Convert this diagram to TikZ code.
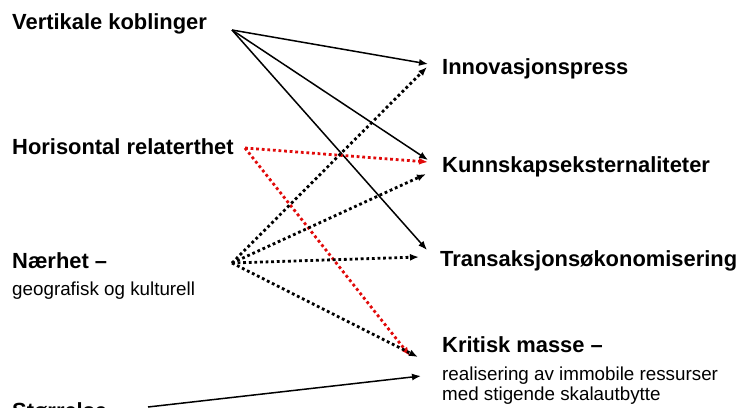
\documentclass[tikz,border=0pt]{standalone}
\usepackage{fontspec}
\setmainfont{Liberation Sans}
\usetikzlibrary{arrows.meta}
\definecolor{hred}{RGB}{225,10,10}

\begin{document}
\begin{tikzpicture}[x=1pt,y=-1pt,>={Latex[length=9pt,width=7pt]},
    hoved/.style={anchor=base west,inner sep=0pt,font=\bfseries\fontsize{21.9}{24}\selectfont},
    under/.style={anchor=base west,inner sep=0pt,align=left,font=\fontsize{18.8}{20}\selectfont},
    hel/.style={->,line width=1.5pt},
    prikk/.style={->,line width=2.8pt,dash pattern=on 2.8pt off 2.8pt}]
	  \useasboundingbox (0,0) rectangle (739,407);
	  \clip (0,0) rectangle (739,407);
	  % venstre side
	  \node[hoved] (vert) at (12,29)  {Vertikale koblinger};
	  \node[hoved] (hori) at (12,154) {Horisontal relaterthet};
	  \node[hoved] (naer) at (12,268) {Nærhet --};
	  \node[under] (naer2) at (12,295) {geografisk og kulturell};
	  \node[hoved] (stor) at (12,418) {Størrelse};
	  % høyre side
	  \node[hoved] (innov) at (442,74)  {Innovasjonspress};
	  \node[hoved] (kunn)  at (442,172) {Kunnskapseksternaliteter};
	  \node[hoved] (trans) at (440,266) {Transaksjonsøkonomisering};
	  \node[hoved] (krit)  at (442,352) {Kritisk masse --};
	  \node[under] (krit2) at (442,380) {realisering av immobile ressurser};
	  \node[under] (krit3) at (442,400) {med stigende skalautbytte};

	  \coordinate (vk) at (232,30);
	  \coordinate (hr) at (245,148);
	  \coordinate (nh) at (232,263);
	  \coordinate (st) at (148,407);
	  \coordinate (inn-a) at (428,64);
	  \coordinate (inn-b) at (427,67);
	  \coordinate (kun-a) at (428,160);
	  \coordinate (kun-b) at (428,162);
	  \coordinate (kun-c) at (426,174);
	  \coordinate (tra-a) at (427,250);
	  \coordinate (tra-b) at (419,257);
	  \coordinate (kri-a) at (410,356);
	  \coordinate (kri-b) at (418,357);
	  \coordinate (kri-c) at (421,376);

	  \draw[hel] (vk) -- (inn-a);
	  \draw[hel] (vk) -- (kun-a);
	  \draw[hel] (vk) -- (tra-a);
	  \draw[prikk,hred] (hr) -- (kun-b);
	  \draw[prikk,hred] (hr) -- (kri-a);
	  \draw[prikk] (nh) -- (inn-b);
	  \draw[prikk] (nh) -- (kun-c);
	  \draw[prikk] (nh) -- (tra-b);
	  \draw[prikk] (nh) -- (kri-b);
	  \draw[hel] (st) -- (kri-c);
	\end{tikzpicture}
\end{document}
